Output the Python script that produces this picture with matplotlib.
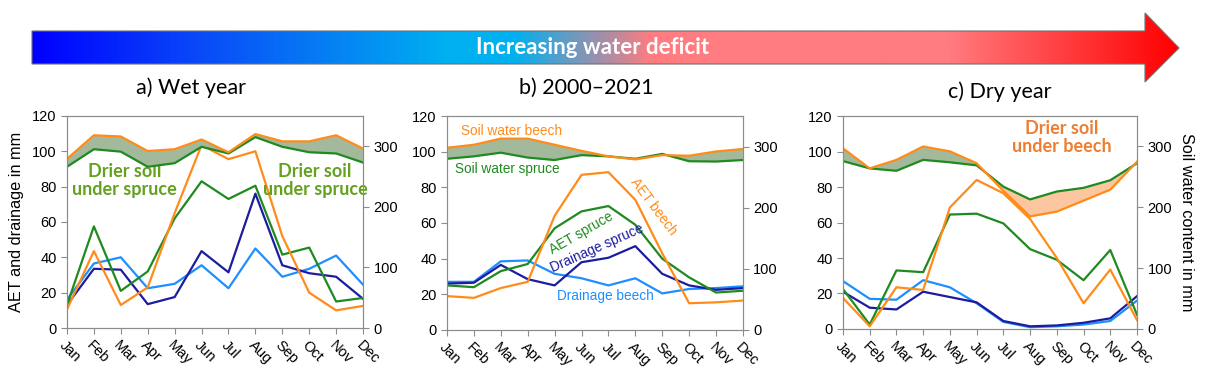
""" Water balance of beech and spruce: wet year, 2000-2021 mean, dry year """
import numpy as np
import matplotlib
matplotlib.use('Agg')
import matplotlib.pyplot as plt
from matplotlib.colors import LinearSegmentedColormap
from matplotlib.patches import Polygon

plt.rcParams['font.family'] = ['Liberation Sans', 'DejaVu Sans']

months = ['Jan', 'Feb', 'Mar', 'Apr', 'May', 'Jun', 'Jul', 'Aug', 'Sep', 'Oct', 'Nov', 'Dec']

# a) wet year
wet_aet_beech = [10.5, 43.5, 13, 23, 65, 103.5, 95.5, 100, 52, 20, 10, 12.5]
wet_aet_spruce = [13, 57.5, 21, 32, 62, 83, 73, 80.5, 41.5, 45.5, 15, 17]
wet_drain_beech = [16, 36.5, 40, 22.5, 25, 35.5, 22.5, 45, 29, 33.5, 41, 24.5]
wet_drain_spruce = [13, 33.5, 33, 13.5, 17.5, 43.5, 31.5, 76, 35.5, 31, 29, 16.5]
wet_sw_beech = [279, 318, 316, 292, 295, 311, 290, 320, 308, 308, 318, 296]
wet_sw_spruce = [266, 295, 291, 266, 272, 299, 288, 315, 299, 290, 288, 273]

# b) 2000-2021
mean_aet_beech = [19, 18, 23.5, 27, 64, 87, 88.5, 73, 43, 15, 15.5, 16.5]
mean_aet_spruce = [25, 24, 33, 37, 57, 66.5, 69.5, 59, 40, 29.5, 21, 22]
mean_drain_beech = [27, 27, 38.5, 39, 31.5, 29, 25, 29, 20.5, 23, 23.5, 24.5]
mean_drain_spruce = [26, 26.5, 36.5, 28.5, 25, 38, 40.5, 47, 31.5, 25, 22.5, 23.5]
mean_sw_beech = [298, 303, 313, 313, 303, 293, 284, 279, 286, 285, 292, 296]
mean_sw_spruce = [280, 284, 290, 282, 278, 286, 284, 280, 288, 276, 275.5, 278]

# c) dry year
dry_aet_beech = [17.5, 1.5, 23.5, 22, 68.5, 84, 76.5, 62, 40, 14.5, 33.5, 5]
dry_aet_spruce = [22.5, 2.5, 33, 32, 64.5, 65, 59.5, 45, 39, 27.5, 44.5, 8]
dry_drain_beech = [27, 17, 16.5, 27.5, 23.5, 14.5, 4, 1, 1.5, 2.5, 4.5, 16]
dry_drain_spruce = [21, 12, 11, 21, 18, 15, 4.5, 1.5, 2, 3.5, 6, 18.5]
dry_sw_beech = [297, 264, 278, 300, 292, 272.5, 227, 185, 193, 211, 229, 275]
dry_sw_spruce = [276, 264, 260, 278, 274, 269, 234, 213, 226, 232, 244.5, 272.5]

ORANGE = '#ff8c1a'
GREEN = '#1f8a1f'
NAVY = '#1c1ca0'
LIGHTBLUE = '#1e8fff'
SAGE = '#a3b99b'
PEACH = '#fbc6a0'
GREY = '#8c8c8c'

fig = plt.figure(figsize=(12.11, 3.85), dpi=100)

# gradient arrow across the top, drawn in pixel coordinates
bg = fig.add_axes([0, 0, 1, 1])
bg.set_xlim(0, 1211)
bg.set_ylim(385, 0)
bg.axis('off')
arrow_pts = [(32, 31), (1145, 31), (1145, 13), (1179, 48), (1145, 82), (1145, 64), (32, 64)]
cmap = LinearSegmentedColormap.from_list('deficit', [
    (0.0, '#0000ff'), (0.15, '#0a4cf8'), (0.36, '#00b0f0'), (0.42, '#00b0f0'),
    (0.54, '#ff7c80'), (0.80, '#ff7c80'), (1.0, '#ff0000')])
grad = np.linspace(0, 1, 512).reshape(1, -1)
img = bg.imshow(grad, cmap=cmap, aspect='auto', extent=[32, 1179, 82, 13])
arrow = Polygon(arrow_pts, closed=True, facecolor='none', edgecolor='#707070', lw=0.8)
bg.add_patch(arrow)
img.set_clip_path(arrow)
bg.text(593, 47, 'Increasing water deficit', color='white', fontsize=16,
        fontweight='bold', family='Lato', ha='center', va='center')
bg.text(191, 88, 'a) Wet year', fontsize=15.5, family='Lato', ha='center', va='center')
bg.text(586, 88, 'b) 2000\u20132021', fontsize=15.5, family='Lato', ha='center', va='center')
bg.text(1000, 92, 'c) Dry year', fontsize=15.5, family='Lato', ha='center', va='center')

x = np.arange(12)


def panel(rect, aet_b, aet_s, dr_b, dr_s, sw_b, sw_s):
    ax = fig.add_axes(rect)
    ax2 = ax.twinx()
    ax.plot(x, dr_b, color=LIGHTBLUE, lw=1.6)
    ax.plot(x, dr_s, color=NAVY, lw=1.6)
    ax.plot(x, aet_s, color=GREEN, lw=1.6)
    ax.plot(x, aet_b, color=ORANGE, lw=1.6)
    sw_b = np.array(sw_b)
    sw_s = np.array(sw_s)
    ax2.fill_between(x, sw_s, sw_b, where=sw_b >= sw_s, interpolate=True,
                     color=SAGE, lw=0)
    ax2.fill_between(x, sw_s, sw_b, where=sw_b < sw_s, interpolate=True,
                     color=PEACH, lw=0)
    ax2.plot(x, sw_s, color=GREEN, lw=1.6)
    ax2.plot(x, sw_b, color=ORANGE, lw=1.6)
    ax.set_xlim(0, 11)
    ax.set_ylim(0, 120)
    ax.set_yticks(range(0, 121, 20))
    ax2.set_ylim(0, 350)
    ax2.set_yticks([0, 100, 200, 300])
    ax.set_xticks(x)
    ax.set_xticklabels(months)
    for a in (ax, ax2):
        for sp in a.spines.values():
            sp.set_color(GREY)
        a.tick_params(colors=GREY, labelcolor='black', labelsize=10.5, length=4)
    for lab in ax.get_xticklabels():
        lab.set_rotation(-45)
        lab.set_ha('left')
        lab.set_va('top')
        lab.set_rotation_mode('anchor')
    return ax, ax2


ax_a, ax2_a = panel([0.0553, 0.148, 0.2445, 0.551], wet_aet_beech, wet_aet_spruce,
                    wet_drain_beech, wet_drain_spruce, wet_sw_beech, wet_sw_spruce)
ax_a.set_ylabel('AET and drainage in mm', fontsize=11.7, labelpad=6)
for xt in (2.14, 9.22):
    ax_a.text(xt, 83.5, 'Drier soil\nunder spruce', color='#63a11f', fontsize=13,
              fontweight='bold', family='Lato', ha='center', va='center', linespacing=1.1)

ax_b, ax2_b = panel([0.3691, 0.1429, 0.2444, 0.5558], mean_aet_beech, mean_aet_spruce,
                    mean_drain_beech, mean_drain_spruce, mean_sw_beech, mean_sw_spruce)
ax_b.text(2.4, 111.6, 'Soil water beech', color=ORANGE, fontsize=9.8, ha='center', va='center')
ax_b.text(2.23, 90.5, 'Soil water spruce', color=GREEN, fontsize=9.8, ha='center', va='center')
ax_b.text(7.67, 69, 'AET beech', color=ORANGE, fontsize=9.8, ha='center', va='center', rotation=-53)
ax_b.text(5.0, 54.5, 'AET spruce', color=GREEN, fontsize=9.8, ha='center', va='center', rotation=30)
ax_b.text(5.56, 45.7, 'Drainage spruce', color=NAVY, fontsize=9.8, ha='center', va='center', rotation=24)
ax_b.text(5.9, 19, 'Drainage beech', color=LIGHTBLUE, fontsize=9.8, ha='center', va='center')

ax_c, ax2_c = panel([0.6961, 0.1455, 0.2428, 0.553], dry_aet_beech, dry_aet_spruce,
                    dry_drain_beech, dry_drain_spruce, dry_sw_beech, dry_sw_spruce)
ax2_c.set_ylabel('Soil water content in mm', fontsize=11.7, rotation=-90, labelpad=16)
ax_c.text(8.2, 108, 'Drier soil\nunder beech', color='#ed7d31', fontsize=13,
          fontweight='bold', family='Lato', ha='center', va='center', linespacing=1.1)

fig.savefig('out.png', dpi=100)
